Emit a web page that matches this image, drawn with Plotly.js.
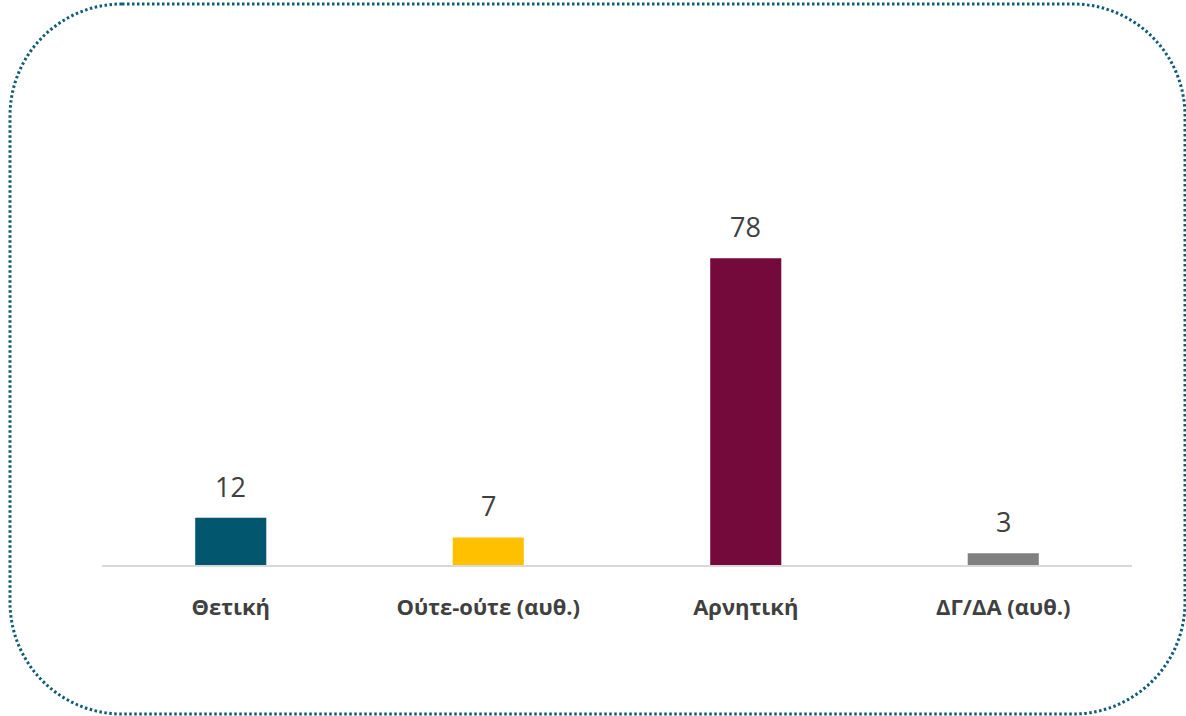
<!DOCTYPE html>
<html>
<head>
<meta charset="utf-8">
<script src="https://cdn.plot.ly/plotly-3.0.1.min.js"></script>
<style>html,body{margin:0;padding:0;background:#fff;}#chart{width:1186px;height:716px;}</style>
</head>
<body>
<div id="chart"></div>
<script>
const categories = ['Θετική', 'Ούτε-ούτε (αυθ.)', 'Αρνητική', 'ΔΓ/ΔΑ (αυθ.)'];
const values = [12, 7, 78, 3];
const barColors = ['#02566E', '#FFC000', '#730A3B', '#808080'];

const W = 1186, H = 716;
const M = {l: 102, r: 54, t: 211, b: 151};
const PW = W - M.l - M.r, PH = H - M.t - M.b;
const yMax = 90;

// rounded dotted frame, given in pixels and converted to paper coordinates
function px(x) { return ((x - M.l) / PW).toFixed(5); }
function py(y) { return ((H - M.b - y) / PH).toFixed(5); }
function framePath(x0, y0, x1, y1, r) {
  const k = 0.5523 * r;
  const p = (x, y) => px(x) + ',' + py(y);
  return 'M' + p(x0 + r, y0) +
    ' L' + p(x1 - r, y0) +
    ' C' + p(x1 - r + k, y0) + ' ' + p(x1, y0 + r - k) + ' ' + p(x1, y0 + r) +
    ' L' + p(x1, y1 - r) +
    ' C' + p(x1, y1 - r + k) + ' ' + p(x1 - r + k, y1) + ' ' + p(x1 - r, y1) +
    ' L' + p(x0 + r, y1) +
    ' C' + p(x0 + r - k, y1) + ' ' + p(x0, y1 - r + k) + ' ' + p(x0, y1 - r) +
    ' L' + p(x0, y0 + r) +
    ' C' + p(x0, y0 + r - k) + ' ' + p(x0 + r - k, y0) + ' ' + p(x0 + r, y0) + ' Z';
}

const trace = {
  type: 'bar',
  x: categories,
  y: values,
  marker: {color: barColors},
  width: 0.276,
  hoverinfo: 'none'
};

const annotations = categories.map((c, i) => ({
  x: c, y: values[i], xref: 'x', yref: 'y',
  text: String(values[i]), showarrow: false,
  yanchor: 'bottom', yshift: 11,
  font: {family: 'Open Sans, sans-serif', size: 27, color: '#404040'}
}));

const layout = {
  width: W, height: H,
  margin: M,
  paper_bgcolor: '#ffffff',
  plot_bgcolor: '#ffffff',
  showlegend: false,
  bargap: 0.724,
  xaxis: {
    type: 'category',
    showgrid: false, zeroline: false,
    showline: true, linecolor: '#D9D9D9', linewidth: 1.5,
    ticks: '', ticklabelstandoff: 22,
    tickfont: {family: 'Open Sans, sans-serif', size: 22, color: '#404040', weight: 'bold'},
    fixedrange: true
  },
  yaxis: {
    range: [0, yMax], visible: false, showgrid: false, zeroline: false, fixedrange: true
  },
  annotations: annotations,
  shapes: [{
    type: 'path', xref: 'paper', yref: 'paper',
    path: framePath(10, 4, 1185, 714, 112),
    line: {color: '#0E5C74', width: 3, dash: '2.5px,2.5px'},
    fillcolor: 'rgba(0,0,0,0)',
    layer: 'below'
  }]
};

Plotly.newPlot('chart', [trace], layout, {displayModeBar: false, staticPlot: true});
</script>
</body>
</html>
